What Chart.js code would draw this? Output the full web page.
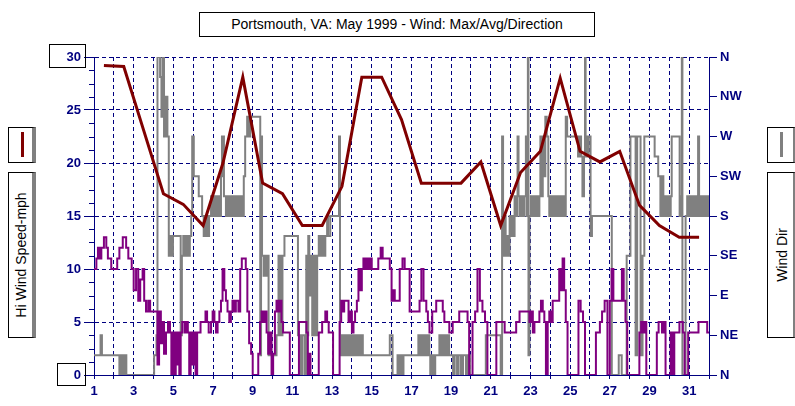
<!DOCTYPE html>
<html>
<head>
<meta charset="utf-8">
<script src="https://cdn.jsdelivr.net/npm/chart.js@4.4.1/dist/chart.umd.min.js"></script>
<style>
  body { margin: 0; background: #fff; }
  #wrap { position: relative; width: 795px; height: 406px; font-family: Arial, "Liberation Sans", sans-serif; }
  #chart { position: absolute; left: 0; top: 0; }
  .box { position: absolute; box-sizing: border-box; border: 1px solid #000; }
  .shadow { border-right: 4px solid #808080; background: #fff; }
  .vtext { position: absolute; width: 160px; height: 16px; line-height: 16px; text-align: center; font-size: 14px; transform: rotate(-90deg); white-space: nowrap; }
</style>
</head>
<body>
<div id="wrap">
  <canvas id="chart" width="795" height="406"></canvas>
  <div class="box" style="left:199px;top:12px;width:396px;height:25px;background:#fff;text-align:center;font-size:14px;line-height:23px;">Portsmouth, VA: May 1999 - Wind: Max/Avg/Direction</div>
  <div class="box" style="left:49px;top:44px;width:37px;height:24px;"></div>
  <div class="box" style="left:57px;top:363px;width:29px;height:23px;"></div>
  <div class="box shadow" style="left:8px;top:127px;width:28px;height:36px;"></div>
  <div style="position:absolute;left:21px;top:132px;width:3px;height:25px;background:#800000;"></div>
  <div class="box shadow" style="left:8px;top:172px;width:28px;height:166px;"></div>
  <div class="vtext" style="left:-59px;top:247px;">Hi Wind Speed-mph</div>
  <div class="box shadow" style="left:767px;top:127px;width:30px;height:36px;"></div>
  <div style="position:absolute;left:780px;top:132px;width:3px;height:25px;background:#808080;"></div>
  <div class="box shadow" style="left:767px;top:172px;width:30px;height:166px;"></div>
  <div class="vtext" style="left:702px;top:247px;">Wind Dir</div>
</div>
<script>
// daily maximum wind (mph), plotted at noon of each day
const maxDay = [1.5,2.5,3.5,4.5,5.5,6.5,7.5,8.5,9.5,10.5,11.5,12.5,13.5,14.5,15.5,16.5,17.5,18.5,19.5,20.5,21.5,22.5,23.5,24.5,25.5,26.5,27.5,28.5,29.5,30.5,31.5];
const maxMph = [29.2,29.1,23.1,17.1,16.1,14.1,20,28.1,18.1,17.1,14.1,14.1,17.8,28.1,28.1,24.1,18.1,18.1,18.1,20.1,14.1,19.1,21.1,28,21.1,20.1,21.1,16,14.1,13,13];

// average wind (mph): time of change (day) and new value
const avgDay = [1,1.12,1.2,1.28,1.37,1.5,1.62,1.7,1.87,2.17,2.28,2.45,2.62,2.73,2.9,3,3.12,3.23,3.33,3.45,3.53,3.62,3.73,3.83,
  4.2,4.28,4.37,4.45,4.53,4.63,4.73,4.83,4.9,4.97,5.03,5.12,5.17,5.23,5.3,5.37,5.45,5.57,5.65,5.73,5.8,5.87,5.95,6.03,6.12,6.2,6.37,6.62,6.7,6.78,6.9,6.98,7.07,7.15,7.23,7.32,7.4,7.48,7.57,7.65,7.73,7.82,7.9,7.98,8.07,8.15,8.28,8.37,8.45,8.65,8.73,8.82,8.92,9,9.28,9.37,9.45,9.53,9.62,9.7,9.78,9.87,9.95,10.03,10.12,10.2,10.28,10.37,10.45,10.53,10.87,
  11.33,11.71,11.78,11.85,11.91,12.33,12.5,12.66,12.75,12.83,13.05,13.38,13.46,13.55,13.61,13.83,13.91,14,14.08,14.16,14.25,14.33,14.41,14.5,14.58,14.66,14.75,14.83,14.91,15,15.33,15.45,15.55,15.91,16,16.08,16.16,16.41,16.55,16.66,16.91,17.41,17.5,17.61,17.75,17.83,17.91,18.05,18.25,18.58,18.66,18.91,19.08,19.41,19.83,19.91,20.08,20.21,20.33,20.45,20.58,20.71,20.83,21.28,
  21.7,22.28,22.45,22.95,23.03,23.12,23.2,23.45,23.53,23.62,23.7,23.78,23.87,23.95,24.03,24.12,24.45,24.53,24.62,24.7,24.78,24.87,25.42,25.53,25.65,25.75,26.3,26.5,26.61,26.74,26.88,27,27.09,27.18,27.61,27.7,27.79,27.88,28.49,28.58,28.67,28.75,28.84,29.37,29.46,29.63,29.72,29.81,30.07,30.16,30.25,30.51,30.68,30.77,30.95,31.47,31.91,32];
const avgMph = [10,11,12,11,12,13,12,11,10,11,12,13,12,11,10,8,10,7,9,10,7,6,7,6,
  1,6,3,5,2,4,5,4,0,4,0,4,1,4,0,4,5,4,5,4,0,4,1,4,0,4,5,6,5,4,5,6,5,4,5,6,7,10,8,7,6,5,6,7,6,7,6,10,11,10,6,3,2,0,2,5,6,5,6,4,2,4,0,2,6,7,6,7,5,4,0,
  5,4,0,2,0,4,5,6,5,4,0,5,7,6,7,5,6,4,5,6,7,10,8,10,11,10,11,10,11,10,11,12,11,10,7,8,7,10,11,10,6,7,10,7,6,5,4,6,7,6,5,4,5,6,5,0,5,6,10,7,6,5,0,5,
  4,5,6,5,6,4,5,6,7,6,5,0,5,6,5,7,10,8,11,8,5,0,7,6,5,0,4,5,6,7,0,7,10,7,10,7,5,0,4,5,4,5,0,4,5,4,5,0,4,0,4,5,4,0,4,5,4,4];

// wind direction (degrees, 16-point compass): time of change (day) and new value
const dirDay = [1,1.33,1.4,2.28,2.33,2.4,2.47,2.53,2.58,2.63,4.03,4.15,4.2,4.33,4.4,4.45,4.53,4.62,4.7,4.77,4.83,4.92,4.98,5.37,5.43,5.5,5.58,5.67,5.75,5.83,5.9,5.95,6.03,6.28,6.45,6.53,6.62,6.7,6.8,6.9,6.98,7.07,7.15,7.23,7.32,7.4,7.45,7.55,7.65,7.75,7.85,7.95,8.05,8.15,8.25,8.35,8.45,8.55,8.62,8.72,8.8,8.88,
  9.38,9.42,9.47,9.55,9.6,9.67,9.72,9.8,10.2,10.3,10.4,10.5,10.6,11.28,11.4,11.5,11.62,11.7,11.75,11.8,11.85,11.9,12,12.1,12.15,12.25,12.33,12.42,12.5,12.58,12.66,12.75,12.8,12.91,13.35,13.4,13.45,13.5,13.55,13.62,13.7,13.78,13.85,13.95,14.05,14.15,14.25,14.35,14.45,14.55,
  15.91,16.05,16.3,16.38,16.45,16.52,16.6,17.35,17.42,17.5,17.58,17.65,17.72,17.8,17.9,17.95,18.05,18.12,18.2,18.41,18.5,18.6,18.7,18.8,18.9,19.1,19.18,19.3,19.38,19.5,19.6,19.75,19.85,19.95,20.75,21.5,
  21.57,21.62,21.7,21.75,21.8,21.87,21.95,22,22.08,22.15,22.2,22.28,22.35,22.4,22.47,22.55,22.62,22.7,22.77,22.82,22.87,22.9,22.95,23.02,23.1,23.17,23.25,23.32,23.4,23.45,23.5,23.55,23.62,23.7,23.75,23.82,23.9,23.95,24.05,24.12,24.2,24.3,24.4,24.5,24.6,24.7,24.78,24.85,
  25.4,25.47,25.55,25.62,25.7,25.75,25.78,25.85,25.92,26.03,26.1,27.1,27.45,27.6,27.85,28.04,28.3,28.38,28.55,28.65,28.74,29.26,29.44,29.55,29.62,29.7,29.78,29.85,29.93,30,30.07,30.12,30.52,30.58,30.63,30.66,30.82,30.9,30.98,31.05,31.12,31.2,31.28,31.35,31.42,31.45,31.5,31.6,31.7,31.78,31.85,31.95,32];
const dirDeg = [22.5,45,22.5,0,22.5,0,22.5,0,22.5,0,22.5,45,360,337.5,292.5,360,270,315,270,135,157.5,135,157.5,45,135,157.5,135,157.5,135,157.5,180,270,225,202.5,180,157.5,180,157.5,180,202.5,180,202.5,180,202.5,180,225,270,202.5,180,202.5,180,202.5,180,202.5,180,202.5,180,225,270,292.5,270,292.5,
  22.5,270,135,112.5,135,112.5,135,22.5,45,135,45,135,157.5,45,0,45,0,135,45,157.5,90,135,45,135,45,135,157.5,135,157.5,135,157.5,180,157.5,180,270,22.5,45,22.5,45,22.5,45,22.5,45,22.5,45,22.5,45,22.5,45,22.5,
  45,0,22.5,0,22.5,0,22.5,45,22.5,45,22.5,45,22.5,45,22.5,0,22.5,0,22.5,45,22.5,45,22.5,45,22.5,0,22.5,0,22.5,0,22.5,0,22.5,0,45,0,
  270,135,180,135,157.5,135,180,157.5,180,157.5,202.5,180,270,202.5,180,202.5,180,202.5,270,180,360,22.5,180,202.5,180,202.5,180,202.5,180,202.5,270,202.5,270,225,292.5,270,202.5,180,202.5,180,202.5,180,202.5,180,202.5,180,292.5,270,
  247.5,270,247.5,202.5,247.5,360,270,247.5,270,157.5,180,0,22.5,0,135,270,22.5,270,22.5,135,270,247.5,225,180,225,180,202.5,180,202.5,180,202.5,270,180,202.5,360,0,180,202.5,180,202.5,180,202.5,180,202.5,180,270,180,202.5,180,202.5,180,202.5,202.5];

const compass = ['N','NE','E','SE','S','SW','W','NW','N'];
const navy = '#000080';
const tickFont = { family: 'Arial, "Liberation Sans", sans-serif', size: 13, weight: 'bold' };

const pairs = (xs, ys) => xs.map((x, i) => ({ x: x, y: ys[i] }));

// short ticks between the labelled speeds on the left axis
const minorTicks = {
  id: 'minorTicks',
  afterDraw(chart) {
    const y = chart.scales.y;
    const ctx = chart.ctx;
    ctx.save();
    ctx.strokeStyle = navy;
    ctx.lineWidth = 1;
    for (let v = 1.25; v < 30; v += 1.25) {
      if (v % 5 === 0) continue;
      const py = Math.round(y.getPixelForValue(v)) + 0.5;
      ctx.beginPath();
      ctx.moveTo(y.right - 5, py);
      ctx.lineTo(y.right, py);
      ctx.stroke();
    }
    ctx.restore();
  }
};

new Chart(document.getElementById('chart').getContext('2d'), {
  type: 'line',
  data: {
    datasets: [
      { label: 'Max', data: pairs(maxDay, maxMph), yAxisID: 'y', borderColor: '#800000', borderWidth: 3, pointRadius: 0 },
      { label: 'Avg', data: pairs(avgDay, avgMph), yAxisID: 'y', stepped: true, borderColor: '#800080', borderWidth: 2, pointRadius: 0 },
      { label: 'Dir', data: pairs(dirDay, dirDeg), yAxisID: 'y2', stepped: true, borderColor: '#808080', borderWidth: 2, pointRadius: 0 }
    ]
  },
  options: {
    responsive: false,
    animation: false,
    layout: { padding: { top: 57, left: 0, right: 0, bottom: 0 } },
    plugins: { legend: { display: false }, tooltip: { enabled: false }, title: { display: false } },
    scales: {
      x: {
        type: 'linear', min: 1, max: 32,
        ticks: { stepSize: 1, autoSkip: false, maxRotation: 0, color: navy, font: tickFont, padding: 5,
          callback: v => (v % 2 === 1 && v < 32) ? String(v) : '' },
        grid: { color: navy, tickColor: navy, tickLength: 4 },
        border: { color: navy, dash: [4, 3] },
        afterFit: s => { s.height = 31; }
      },
      y: {
        position: 'left', min: 0, max: 30,
        ticks: { stepSize: 5, color: navy, font: tickFont, padding: 3 },
        grid: { color: navy, tickColor: navy, tickLength: 10 },
        border: { color: navy, dash: [4, 3] },
        afterFit: s => { s.width = 94; }
      },
      y2: {
        position: 'right', min: 0, max: 360,
        ticks: { stepSize: 45, color: navy, font: tickFont, padding: 3, callback: v => compass[v / 45] },
        grid: { drawOnChartArea: false, tickColor: navy, tickLength: 8 },
        border: { color: navy },
        afterFit: s => { s.width = 86; }
      }
    }
  },
  plugins: [minorTicks]
});
</script>
</body>
</html>
